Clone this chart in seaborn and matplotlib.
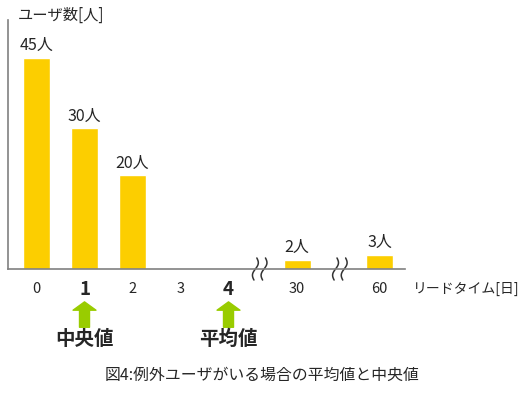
import matplotlib
matplotlib.use("Agg")
import matplotlib.pyplot as plt
import numpy as np
import pandas as pd
import seaborn as sns

# data
days = ["0", "1", "2", "3", "4", "30", "60"]
users = [45, 30, 20, 0, 0, 2, 3]
bar_text = ["45人", "30人", "20人", "", "", "2人", "3人"]
median_day = "1"
mean_day = "4"

# layout: where each category sits on the (broken) x axis
slot = [0, 1, 2, 3, 4, 5.43, 7.15]
breaks = [4.65, 6.32]

sns.set_style("white")
plt.rcParams['font.family'] = ['Noto Sans CJK JP', 'DejaVu Sans']

df = pd.DataFrame({"slot": slot, "users": users, "day": days})

fig = plt.figure(figsize=(5.22, 3.93), dpi=100)
ax = fig.add_axes([8/522, 1-269/393, (405-8)/522, (269-20)/393])

sns.barplot(data=df, x="slot", y="users", native_scale=True, color="#FCCE00",
            saturation=1, width=0.56, errorbar=None, ax=ax)
ax.bar_label(ax.containers[0], labels=bar_text, padding=2.5, fontsize=11.5)

ax.set_xlim(-0.594, 7.677)
ax.set_ylim(0, 53)
ax.set_yticks([])
ax.set_xlabel("")
ax.set_ylabel("")
for s in ["top", "right"]:
    ax.spines[s].set_visible(False)
for s in ["left", "bottom"]:
    ax.spines[s].set_color("#808080")
    ax.spines[s].set_linewidth(1.2)

ax.set_xticks(slot, days)
ax.tick_params(axis="x", length=0, pad=14.5)
for lab in ax.get_xticklabels():
    lab.set_verticalalignment("center")
    if lab.get_text() in (median_day, mean_day):
        lab.set_fontweight("bold")
        lab.set_fontsize(13.5)
    else:
        lab.set_fontsize(10.5)

# break marks on the x axis
t = np.linspace(-1, 1, 60)
for xc in breaks:
    for dx in (-0.09, 0.09):
        ax.plot(xc + dx + 0.045*np.sin(np.pi*t) + 0.03*t, 2.35*t,
                color="#333333", lw=1.1, clip_on=False)

# arrows for median and mean
green = "#99CC00"
for d, name in [(median_day, "中央値"), (mean_day, "平均値")]:
    xd = slot[days.index(d)]
    ax.annotate("", xy=(xd, -0.132), xycoords=("data", "axes fraction"),
                xytext=(xd, -0.234), textcoords=("data", "axes fraction"),
                arrowprops=dict(arrowstyle="simple,head_length=0.6,head_width=1.65,tail_width=0.72",
                                color=green, shrinkA=0, shrinkB=0))
    ax.text(xd, -0.283, name, transform=ax.get_xaxis_transform(), ha="center",
            va="center", fontsize=14, fontweight="bold")

fig.text(18/522, 1-15/393, "ユーザ数[人]", fontsize=11, va="center")
fig.text(413/522, 1-289/393, "リードタイム[日]", fontsize=10, va="center")
fig.text(262/522, 1-375/393, "図4:例外ユーザがいる場合の平均値と中央値", fontsize=11.4,
         ha="center", va="center")

fig.savefig("out.png", dpi=100)
